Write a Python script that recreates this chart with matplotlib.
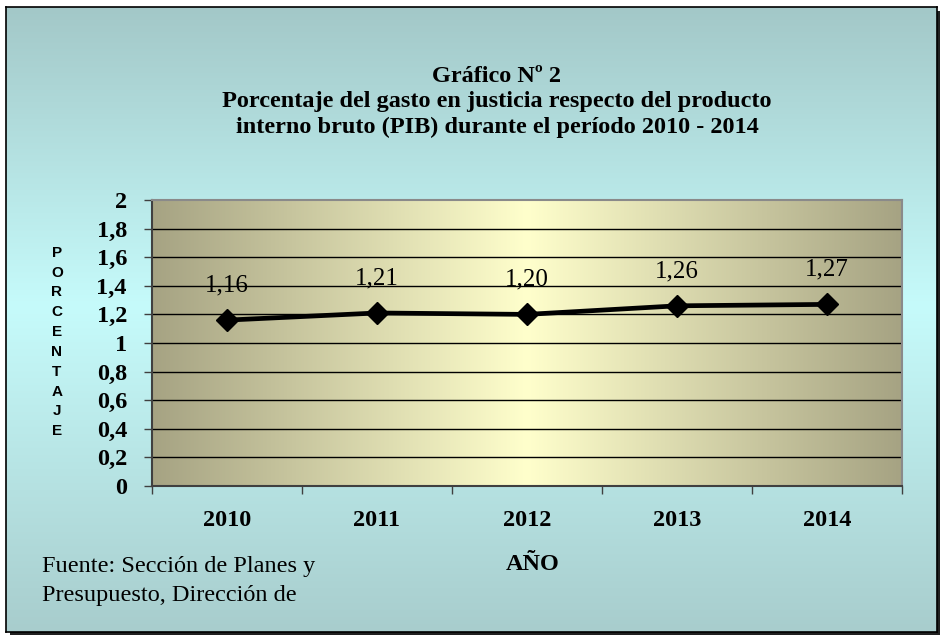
import numpy as np
import matplotlib.pyplot as plt
from matplotlib.colors import LinearSegmentedColormap
from matplotlib.patches import Rectangle


years = ["2010", "2011", "2012", "2013", "2014"]
porcentaje = [1.16, 1.21, 1.20, 1.26, 1.27]
etiquetas = ["1,16", "1,21", "1,20", "1,26", "1,27"]
y_ticks = [0, 0.2, 0.4, 0.6, 0.8, 1.0, 1.2, 1.4, 1.6, 1.8, 2.0]
y_tick_labels = ["0", "0,2", "0,4", "0,6", "0,8", "1", "1,2", "1,4", "1,6", "1,8", "2"]

titulo = ("Gráfico Nº 2\n"
          "Porcentaje del gasto en justicia respecto del producto\n"
          "interno bruto (PIB) durante el período 2010 - 2014")
fuente = "Fuente: Sección de Planes y\nPresupuesto, Dirección de"

SERIF = "Liberation Serif"
SANS = "Liberation Sans"

W, H = 943, 640


def px(x0, y0, x1, y1):
    # pixel box (top-left origin) -> figure fraction rect
    return [x0 / W, 1 - y1 / H, (x1 - x0) / W, (y1 - y0) / H]


fig = plt.figure(figsize=(W / 100, H / 100), dpi=100, facecolor="white")

# shadow + outer box with vertical gradient
shadow = fig.add_axes(px(10, 11, 940, 635))
shadow.set_axis_off()
shadow.add_patch(Rectangle((0, 0), 1, 1, transform=shadow.transAxes, color="#202020"))

bg = fig.add_axes(px(6, 7, 937, 632))
bg_cmap = LinearSegmentedColormap.from_list(
    "bg", [(0.0, "#a3c8c8"), (0.48, "#c6fbfb"), (1.0, "#a8cdcd")])
bg.imshow(np.linspace(0, 1, 256).reshape(-1, 1), cmap=bg_cmap, aspect="auto",
          extent=(0, 1, 0, 1))
bg.set_xlim(0, 1)
bg.set_ylim(0, 1)
bg.set_xticks([])
bg.set_yticks([])
for s in bg.spines.values():
    s.set_color("black")
    s.set_linewidth(1.2)

# plot area
ax = fig.add_axes(px(152, 200, 902, 486))
x = np.arange(len(years))
ax.set_xlim(-0.5, len(years) - 0.5)
ax.set_ylim(0, 2)

area_cmap = LinearSegmentedColormap.from_list(
    "area", [(0.0, "#a6a383"), (0.5, "#ffffcc"), (1.0, "#a6a383")])
ax.imshow(np.linspace(0, 1, 256).reshape(1, -1), cmap=area_cmap, aspect="auto",
          extent=(-0.5, len(years) - 0.5, 0, 2), zorder=0)

for yv in y_ticks[1:-1]:
    ax.axhline(yv, color="black", linewidth=1.0, zorder=1)

ax.plot(x, porcentaje, color="black", linewidth=3.4, marker="D", markersize=11,
        zorder=3)
for xi, yi, lab in zip(x, porcentaje, etiquetas):
    ax.annotate(lab, (xi, yi), xytext=(0, 25), textcoords="offset points",
                ha="center", va="center", fontsize=18, family=SERIF, zorder=4)

ax.set_yticks(y_ticks)
ax.set_yticklabels(y_tick_labels, fontsize=17.5, fontweight="bold", family=SERIF)
ax.set_xticks(np.arange(len(years) + 1) - 0.5)
ax.set_xticklabels([])
ax.set_xticks(x, minor=True)
ax.set_xticklabels(years, minor=True, fontsize=17.5, fontweight="bold", family=SERIF)
ax.tick_params(axis="x", which="major", direction="out", length=6, width=1,
               color="#404040")
ax.tick_params(axis="x", which="minor", length=0, pad=17)
ax.tick_params(axis="y", direction="out", length=6, width=1, color="#404040", pad=12)

ax.spines["left"].set_color("#404040")
ax.spines["bottom"].set_color("#404040")
ax.spines["top"].set_color("#8a8a8a")
ax.spines["right"].set_color("#8a8a8a")
for s in ax.spines.values():
    s.set_linewidth(1.5)

fig.text(497 / W, 1 - 102 / H, titulo, ha="center", va="center", fontsize=17.5,
         fontweight="bold", family=SERIF, linespacing=1.3)

fig.text(57 / W, 1 - 342 / H, "\n".join("PORCENTAJE"), ha="center", va="center",
         fontsize=11, fontweight="bold", family=SANS, linespacing=1.53)

fig.text(533 / W, 1 - 565 / H, "AÑO", ha="center", va="center", fontsize=17.5,
         fontweight="bold", family=SERIF)

fig.text(42 / W, 1 - 581 / H, fuente, ha="left", va="center", fontsize=17.5,
         family=SERIF, linespacing=1.55)

fig.savefig("out.png", dpi=100, facecolor="white")
